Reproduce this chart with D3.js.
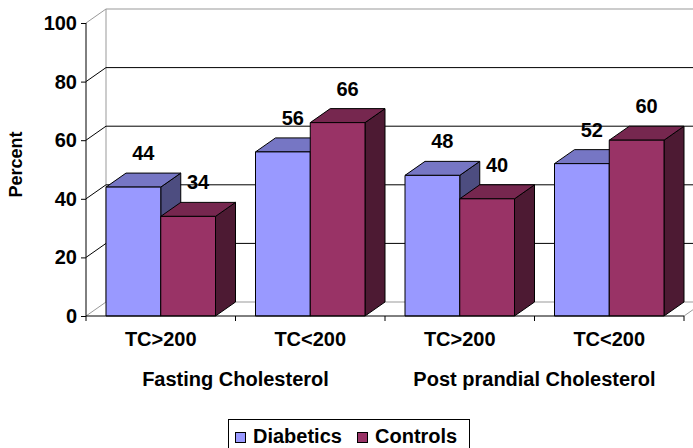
<!DOCTYPE html>
<html>
<head>
<meta charset="utf-8">
<script src="https://cdn.jsdelivr.net/npm/d3@7"></script>
<style>
  html, body { margin: 0; padding: 0; background: #fff; }
  svg { display: block; }
  text { font-family: Arial, "Liberation Sans", sans-serif; font-weight: bold; fill: #000; }
</style>
</head>
<body>
<svg id="chart" width="693" height="448"></svg>
<script>
const categories = ["TC>200", "TC<200", "TC>200", "TC<200"];
const groups = ["Fasting Cholesterol", "Post prandial Cholesterol"];
const seriesNames = ["Diabetics", "Controls"];
const diabetics = [44, 56, 48, 52];
const controls = [34, 66, 40, 60];
const yTicks = [0, 20, 40, 60, 80, 100];

(function () {
const colors = { Diabetics: "#9999FF", Controls: "#993366" };
function shade(c, k) { const r = d3.rgb(c); return d3.rgb(r.r * k, r.g * k, r.b * k).formatHex(); }

const svg = d3.select("#chart");
const W = 693;
const pLeft = 86, pRight = 684, pBottom = 316, pTop = 23;
const DX = 20, DY = -14;

const x = d3.scaleBand().domain(d3.range(categories.length)).range([pLeft, pRight]).paddingInner(0).paddingOuter(0);
const bw = x.bandwidth();
const xs = d3.scaleBand().domain(seriesNames).range([0, bw]).paddingInner(0).paddingOuter(20 / ((bw - 40) / 2));
const y = d3.scaleLinear().domain([0, 100]).range([pBottom, pTop]);

const gray = "#999";
const wall = svg.append("g");
wall.append("line").attr("x1", pLeft + DX).attr("x2", pLeft + DX).attr("y1", y(100) + DY).attr("y2", y(0) + DY).attr("stroke", gray);
yTicks.forEach(v => {
  const col = (v === 0 || v === 100) ? gray : "#000";
  wall.append("line").attr("x1", pLeft).attr("y1", y(v)).attr("x2", pLeft + DX).attr("y2", y(v) + DY).attr("stroke", col);
  wall.append("line").attr("x1", pLeft + DX).attr("y1", y(v) + DY).attr("x2", W + 5).attr("y2", y(v) + DY).attr("stroke", col);
});
wall.append("line").attr("x1", pRight).attr("y1", y(0)).attr("x2", pRight + DX).attr("y2", y(0) + DY).attr("stroke", gray);

const data = [];
categories.forEach((c, i) => {
  data.push({ i, s: "Diabetics", v: diabetics[i] });
  data.push({ i, s: "Controls", v: controls[i] });
});
const bars = svg.append("g").attr("stroke", "#000").attr("stroke-width", 1).attr("stroke-linejoin", "round");
data.forEach(d => {
  const x0 = x(d.i) + xs(d.s), x1 = x0 + xs.bandwidth();
  const y0 = y(0), y1 = y(d.v);
  const col = colors[d.s];
  const g = bars.append("g");
  g.append("path").attr("fill", shade(col, 0.5))
    .attr("d", `M${x1},${y1}L${x1 + DX},${y1 + DY}L${x1 + DX},${y0 + DY}L${x1},${y0}Z`);
  g.append("path").attr("fill", shade(col, 0.77))
    .attr("d", `M${x0},${y1}L${x0 + DX},${y1 + DY}L${x1 + DX},${y1 + DY}L${x1},${y1}Z`);
  g.append("rect").attr("x", x0).attr("y", y1).attr("width", x1 - x0).attr("height", y0 - y1).attr("fill", col);
});

svg.append("line").attr("x1", pLeft).attr("x2", pLeft).attr("y1", y(100)).attr("y2", y(0)).attr("stroke", "#000");
svg.append("line").attr("x1", pLeft).attr("x2", pRight).attr("y1", y(0)).attr("y2", y(0)).attr("stroke", "#000");

const yAxis = svg.append("g").attr("transform", `translate(${pLeft},0)`)
  .call(d3.axisLeft(y).tickValues(yTicks).tickSize(5).tickPadding(4).tickFormat(d3.format("d")));
yAxis.select(".domain").remove();
yAxis.selectAll("text").style("font-size", "20px").style("font-family", "Arial, 'Liberation Sans', sans-serif").style("font-weight", "bold").attr("fill", "#000");
yAxis.selectAll("line").attr("stroke", "#000");

const bounds = d3.range(categories.length + 1).map(i => pLeft + i * bw);
svg.append("g").selectAll("line").data(bounds).join("line")
  .attr("x1", d => d).attr("x2", d => d).attr("y1", y(0)).attr("y2", y(0) + 5).attr("stroke", "#000");

const xAxis = svg.append("g").attr("transform", `translate(0,${y(0)})`)
  .call(d3.axisBottom(x).tickSize(0).tickPadding(16).tickFormat(i => categories[i]));
xAxis.select(".domain").remove();
xAxis.selectAll("text").style("font-size", "20px").style("font-family", "Arial, 'Liberation Sans', sans-serif").style("font-weight", "bold").attr("fill", "#000");

groups.forEach((g, gi) => {
  const cx = (x(gi * 2) + x(gi * 2 + 1) + bw) / 2;
  svg.append("text").attr("x", cx).attr("y", 386).attr("text-anchor", "middle").style("font-size", "20px").text(g);
});

data.forEach(d => {
  const cx = x(d.i) + xs(d.s) + xs.bandwidth() / 2 + DX / 2;
  svg.append("text").attr("x", cx).attr("y", y(d.v) + DY - 13).attr("text-anchor", "middle")
    .style("font-size", "20px").text(d.v);
});

svg.append("text").attr("transform", `translate(22,${(y(0) + y(100)) / 2 - 5}) rotate(-90)`)
  .attr("text-anchor", "middle").style("font-size", "18px").text("Percent");

const lg = svg.append("g");
lg.append("rect").attr("x", 228.5).attr("y", 419.5).attr("width", 241).attr("height", 40).attr("fill", "#fff").attr("stroke", "#000");
const legX = [235, 357];
seriesNames.forEach((s, i) => {
  lg.append("rect").attr("x", legX[i] + 0.5).attr("y", 432.5).attr("width", 10).attr("height", 10).attr("fill", colors[s]).attr("stroke", "#000");
  lg.append("text").attr("x", legX[i] + 18).attr("y", 443).style("font-size", "20px").text(s);
});
})();
</script>
</body>
</html>
